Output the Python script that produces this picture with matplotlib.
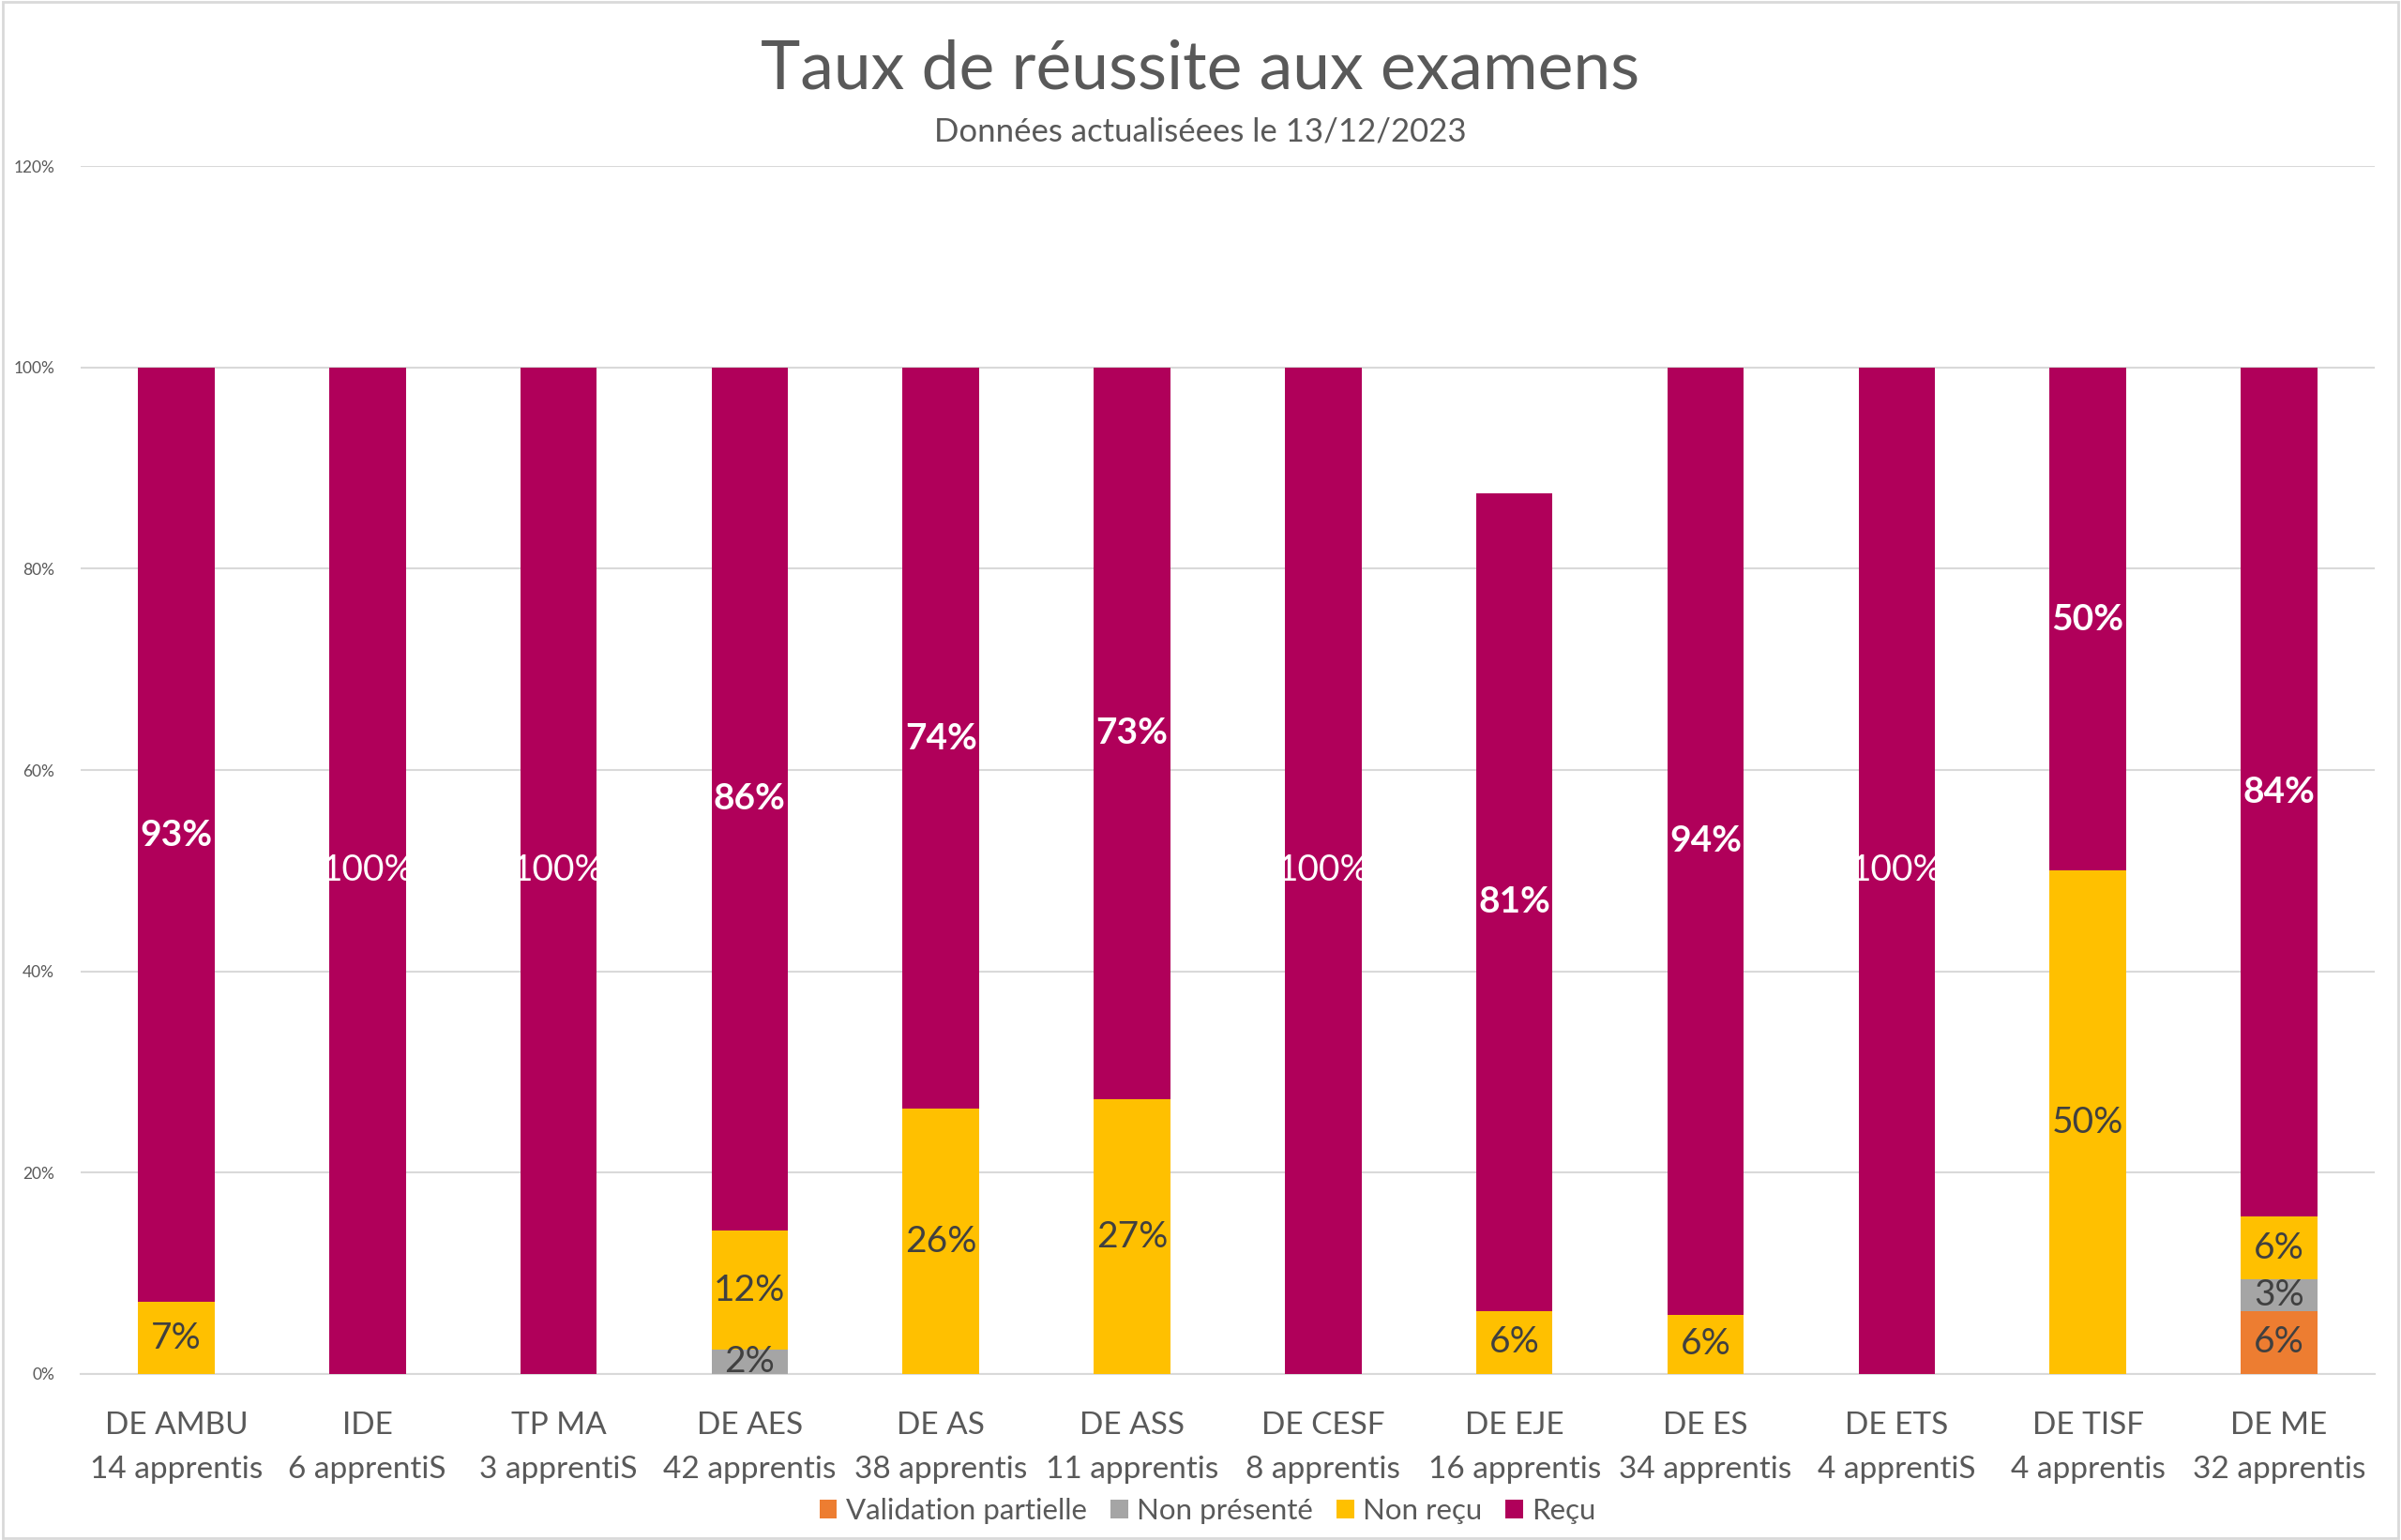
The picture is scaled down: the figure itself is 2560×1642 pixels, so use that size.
import matplotlib
matplotlib.use("Agg")
import matplotlib.pyplot as plt
from matplotlib.patches import Rectangle
import numpy as np

plt.rcParams['font.family'] = ['Lato', 'DejaVu Sans']

categories = ["DE AMBU", "IDE", "TP MA", "DE AES", "DE AS", "DE ASS", "DE CESF",
              "DE EJE", "DE ES", "DE ETS", "DE TISF", "DE ME"]
effectifs = ["14 apprentis", "6 apprentiS", "3 apprentiS", "42 apprentis", "38 apprentis",
             "11 apprentis", "8 apprentis", "16 apprentis", "34 apprentis", "4 apprentiS",
             "4 apprentis", "32 apprentis"]
validation_partielle = [0, 0, 0, 0, 0, 0, 0, 0, 0, 0, 0, 0.0625]
non_presente = [0, 0, 0, 0.0238, 0, 0, 0, 0, 0, 0, 0, 0.03125]
non_recu = [0.0714, 0, 0, 0.1190, 0.2632, 0.2727, 0, 0.0625, 0.0588, 0, 0.5, 0.0625]
recu = [0.9286, 1.0, 1.0, 0.8571, 0.7368, 0.7273, 1.0, 0.8125, 0.9412, 1.0, 0.5, 0.84375]

series = [("Validation partielle", validation_partielle, "#ED7D31"),
          ("Non présenté", non_presente, "#A5A5A5"),
          ("Non reçu", non_recu, "#FFC000"),
          ("Reçu", recu, "#B0005A")]

fig = plt.figure(figsize=(25.6, 16.42), dpi=100)
ax = fig.add_axes([0.0336, 0.1078, 0.9554, 0.7844])

x = np.arange(len(categories))
bottom = np.zeros(len(categories))
handles = []
for name, vals, color in series:
    vals = np.array(vals)
    b = ax.bar(x, vals, 0.4, bottom=bottom, color=color, label=name, zorder=3)
    handles.append(b)
    for xi, v, bt in zip(x, vals, bottom):
        if v <= 0:
            continue
        txt = f"{round(v * 100):.0f}%"
        yc = bt + v / 2
        if name == "Reçu":
            weight = 'normal' if round(v * 100) == 100 else 'bold'
            ax.text(xi, yc, txt, ha='center', va='center', color='white',
                    fontsize=28, fontweight=weight, zorder=4)
        else:
            ax.text(xi, yc, txt, ha='center', va='center', color='#404040',
                    fontsize=28, zorder=4)
    bottom = bottom + vals

ax.set_xlim(-0.5, len(categories) - 0.5)
ax.set_ylim(0, 1.2)
ax.set_yticks(np.arange(0, 1.21, 0.2))
ax.set_yticklabels([f"{int(round(t * 100))}%" for t in np.arange(0, 1.21, 0.2)],
                   fontsize=12.5, color='#595959')
ax.set_xticks(x)
ax.set_xticklabels([f"{c}\n{e}" for c, e in zip(categories, effectifs)],
                   fontsize=24, color='#595959', linespacing=1.7)
ax.tick_params(axis='both', length=0)
ax.tick_params(axis='x', pad=29)
ax.tick_params(axis='y', pad=20)
ax.grid(axis='y', color='#D9D9D9', linewidth=1.5, zorder=0)
for s in ['top', 'right', 'left']:
    ax.spines[s].set_visible(False)
ax.spines['bottom'].set_color('#D9D9D9')
ax.spines['bottom'].set_linewidth(1.5)

fig.text(0.5, 1 - 74 / 1642, "Taux de réussite aux examens", ha='center', va='center',
         fontsize=51.5, color='#595959')
fig.text(0.5, 1 - 140 / 1642, "Données actualiséees le 13/12/2023", ha='center', va='center',
         fontsize=25, color='#595959')

fig.legend(handles=handles, labels=[s[0] for s in series], loc='center',
           bbox_to_anchor=(0.503, 1 - 1611 / 1642), ncol=4, frameon=False,
           fontsize=22.5, labelcolor='#595959', handlelength=0.6, handleheight=0.6,
           handletextpad=0.3, columnspacing=0.8)

fig.patches.append(Rectangle((0.001, 0.001), 0.998, 0.998, transform=fig.transFigure,
                             fill=False, edgecolor='#D9D9D9', linewidth=2))

fig.savefig("out.png", dpi=100, facecolor='white')
